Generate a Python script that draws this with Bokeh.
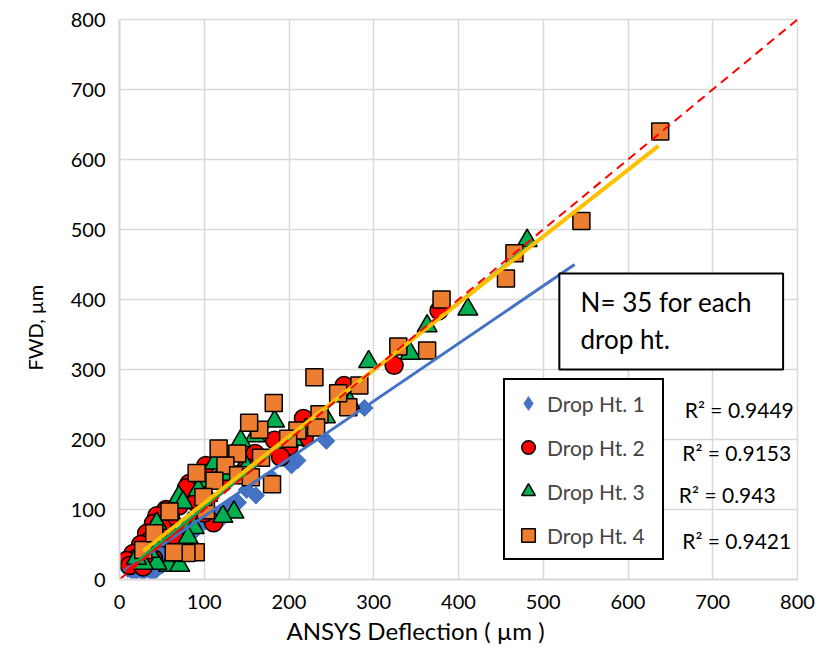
import numpy as np
from bokeh.plotting import figure
from bokeh.models import (Range1d, SingleIntervalTicker, Legend, LegendItem,
                          BoxAnnotation, Label, Title)
from bokeh.embed import file_html
from bokeh.resources import INLINE

# ---- data ----
series_names = ["Drop Ht. 1", "Drop Ht. 2", "Drop Ht. 3", "Drop Ht. 4"]

x1 = [289, 244, 203, 210, 161, 180, 118, 140, 130, 100, 110, 90, 85, 75, 70, 60, 55, 65, 50, 45,
      40, 35, 30, 25, 20, 15, 10, 42, 38, 28, 50, 95, 125, 150, 120]
y1 = [245, 198, 163, 170, 120, 145, 84, 110, 105, 82, 95, 75, 65, 58, 62, 50, 45, 40, 35, 30,
      25, 20, 15, 18, 12, 12, 15, 12, 10, 10, 20, 88, 100, 128, 92]

x2 = [377, 324, 265, 217, 218, 183, 200, 190, 160, 150, 140, 120, 102, 95, 82, 79, 111, 100, 90, 70,
      60, 55, 44, 50, 40, 32, 35, 25, 16, 20, 8, 12, 28, 40, 65]
y2 = [384, 306, 277, 230, 203, 199, 190, 175, 180, 160, 150, 145, 163, 140, 137, 131, 81, 95, 110, 105,
      90, 100, 91, 75, 80, 66, 55, 50, 37, 30, 27, 20, 18, 30, 60]

x3 = [481, 411, 363, 343, 294, 272, 243, 220, 205, 183, 160, 143, 150, 130, 112, 100, 93, 135, 122, 104,
      82, 88, 70, 75, 60, 44, 81, 50, 58, 44, 28, 71, 35, 20, 64]
y3 = [484, 386, 362, 323, 311, 252, 232, 214, 200, 226, 205, 198, 160, 150, 166, 140, 128, 96, 90, 120,
      80, 74, 118, 110, 95, 80, 60, 55, 20, 23, 23, 20, 40, 30, 35]

x4 = [638, 545, 466, 456, 380, 363, 329, 283, 270, 258, 230, 236, 232, 210, 199, 182, 90, 165, 79, 153,
      167, 139, 125, 117, 140, 112, 91, 28, 180, 155, 59, 102, 99, 41, 64]
y4 = [640, 512, 466, 430, 400, 327, 333, 277, 246, 266, 289, 236, 217, 213, 201, 252, 39, 214, 38, 224,
      174, 180, 163, 187, 149, 141, 152, 42, 136, 146, 97, 99, 118, 66, 39]

# linear trendlines
trend_slope = [0.823, 0.985, 0.975, 0.952]
trend_intercept = [8, 4, 6, 14]
trend_x0 = [5, 8, 20, 28]
trend_x1 = [537, 377, 481, 636]
r2_labels = ["R² = 0.9449", "R² = 0.9153", "R² = 0.943", "R² = 0.9421"]

one_to_one = [0, 800]

FONT = "Lato"

p = figure(width=822, height=656, output_backend="svg", toolbar_location=None,
           x_range=Range1d(0, 800), y_range=Range1d(0, 800),
           min_border_left=118, min_border_right=25, min_border_top=19, min_border_bottom=77,
           background_fill_color="white", border_fill_color="white")

p.outline_line_color = "#D9D9D9"
p.outline_line_width = 1.5
for ax in (p.xaxis[0], p.yaxis[0]):
    ax.ticker = SingleIntervalTicker(interval=100)
    ax.axis_line_color = "#D9D9D9"
    ax.axis_line_width = 2
    ax.major_tick_line_color = None
    ax.minor_tick_line_color = None
    ax.major_label_text_font = FONT
    ax.major_label_text_font_size = "20px"
    ax.major_label_text_color = "black"
p.xaxis.major_label_standoff = 9
p.yaxis.major_label_standoff = 8
p.grid.grid_line_color = "#D9D9D9"
p.grid.grid_line_width = 1.5
p.xgrid.ticker = SingleIntervalTicker(interval=100)
p.ygrid.ticker = SingleIntervalTicker(interval=100)

# diamond-shaped renderer used for the legend entry (hidden under the first point)
r1_leg = p.scatter(x1[:1], y1[:1], marker="diamond", size=15,
                   fill_color="#4472C4", line_color="#4472C4", line_width=1)
r1 = p.scatter(x1, y1, marker="square", size=12, angle=np.pi / 4,
               fill_color="#4472C4", line_color="#4472C4", line_width=1)
r2 = p.scatter(x2, y2, marker="circle", size=18,
               fill_color="#FF0000", line_color="black", line_width=1.5)
r3 = p.scatter(x3, y3, marker="triangle", size=20,
               fill_color="#00B050", line_color="black", line_width=1.5)
r4 = p.scatter(x4, y4, marker="square", size=17,
               fill_color="#ED7D31", line_color="black", line_width=1.5)

trend_colors = ["#4472C4", "#FF0000", "#00B050", "#FFC000"]
trend_widths = [3, 2.5, 2.5, 4]
for s, b, xa, xb, c, w in zip(trend_slope, trend_intercept, trend_x0, trend_x1,
                              trend_colors, trend_widths):
    xs = np.array([xa, xb], dtype=float)
    p.line(xs, s * xs + b, line_color=c, line_width=w)

p.line(one_to_one, one_to_one, line_color="#FF0000", line_width=2, line_dash="9 6")

legend = Legend(items=[LegendItem(label=n, renderers=[r]) for n, r in
                       zip(series_names, [r1_leg, r2, r3, r4])],
                location=(384, 19), orientation="vertical",
                glyph_width=34, glyph_height=34, spacing=10, padding=6,
                label_standoff=2, label_width=109,
                label_text_font=FONT, label_text_font_size="21px",
                border_line_color="black", border_line_width=2, border_line_alpha=1.0,
                background_fill_color="white", background_fill_alpha=1.0)
p.add_layout(legend)

box = BoxAnnotation(left=519, right=783, bottom=300, top=437,
                    fill_color="white", fill_alpha=1.0,
                    line_color="black", line_width=2, line_alpha=1.0)
p.add_layout(box)
p.add_layout(Label(x=544, y=397, text="N= 35 for each", text_font=FONT,
                   text_font_size="26px", text_baseline="middle", text_color="black"))
p.add_layout(Label(x=544, y=343, text="drop ht.", text_font=FONT,
                   text_font_size="26px", text_baseline="middle", text_color="black"))

r2_x = [667, 664, 660, 664]
r2_y = [243, 181, 121, 56]
for t, lx, ly in zip(r2_labels, r2_x, r2_y):
    p.add_layout(Label(x=lx, y=ly, text=t, text_font=FONT, text_font_size="21px",
                       text_baseline="middle", text_color="black"))

# axis titles (off-centre like the reference)
p.add_layout(Title(text="ANSYS Deflection ( µm )", align="left", offset=167,
                   text_font=FONT, text_font_size="24px", text_font_style="normal",
                   text_color="black", standoff=4), "below")
p.add_layout(Title(text="FWD, µm", align="left", offset=209,
                   text_font=FONT, text_font_size="20px", text_font_style="normal",
                   text_color="black", standoff=41), "left")

open("out.html", "w").write(file_html(p, INLINE))
